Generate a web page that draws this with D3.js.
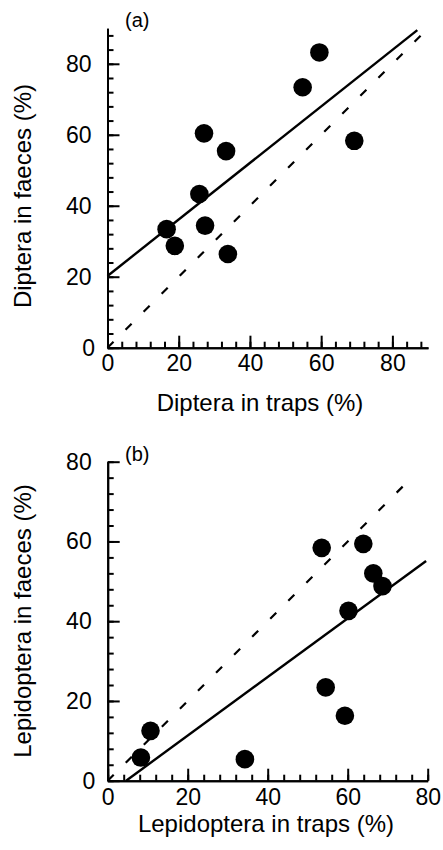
<!DOCTYPE html>
<html>
<head>
<meta charset="utf-8">
<script src="https://cdn.jsdelivr.net/npm/d3@7"></script>
<style>
  body { margin: 0; background: #fff; }
  svg text { font-family: "Liberation Sans", Arial, sans-serif; fill: #000; }
</style>
</head>
<body>
<div id="chart"></div>
<script>
// panel (a): Diptera
var dipTraps  = [59.5, 54.8, 27.1, 33.3, 69.3, 25.8, 16.6, 27.4, 18.9, 33.8];
var dipFaeces = [83.2, 73.4, 60.4, 55.4, 58.3, 43.3, 33.4, 34.4, 28.7, 26.4];
var dipFit    = [[0, 20.2], [87, 89.5]];
var dipEqual  = [[0, 0], [89, 89]];
var dipTicks  = [0, 20, 40, 60, 80];

// panel (b): Lepidoptera
var lepTraps  = [53.5, 63.9, 66.4, 68.7, 60.2, 54.5, 59.3, 10.7, 8.3, 34.3];
var lepFaeces = [58.4, 59.4, 52.0, 48.8, 42.6, 23.4, 16.3, 12.5, 5.8, 5.4];
var lepFit    = [[4.6, 0], [79.6, 55.1]];
var lepEqual  = [[0, 0], [75.5, 75.5]];
var lepTicks  = [0, 20, 40, 60, 80];

var svg = d3.select("#chart")
  .append("svg")
  .attr("width", 443)
  .attr("height", 850);

function drawPanel(opts) {
  var x = d3.scaleLinear().domain([0, opts.max]).range([opts.left, opts.right]);
  var y = d3.scaleLinear().domain([0, opts.max]).range([opts.bottom, opts.top]);
  var minor = d3.range(0, opts.max + 0.1, 4);

  var g = svg.append("g");

  // minor ticks (pointing inwards)
  g.append("g")
    .attr("transform", `translate(0, ${opts.bottom})`)
    .call(d3.axisBottom(x).tickValues(minor).tickSize(-6).tickSizeOuter(0).tickFormat(""));
  g.append("g")
    .attr("transform", `translate(${opts.left}, 0)`)
    .call(d3.axisLeft(y).tickValues(minor).tickSize(-6).tickSizeOuter(0).tickFormat(""));

  // major ticks with labels
  g.append("g")
    .attr("transform", `translate(0, ${opts.bottom})`)
    .call(d3.axisBottom(x).tickValues(opts.ticks).tickSize(-12).tickSizeOuter(0).tickPadding(opts.xPad));
  var yAxis = g.append("g")
    .attr("transform", `translate(${opts.left}, 0)`)
    .call(d3.axisLeft(y).tickValues(opts.ticks).tickSize(-12).tickSizeOuter(0).tickPadding(16));

  // the zero label sits a bit closer to the axis in the original
  yAxis.selectAll(".tick text").filter(d => d === 0).attr("x", -12.5);

  g.selectAll(".domain, .tick line")
    .attr("stroke", "#000")
    .attr("stroke-width", 2);
  g.selectAll(".tick text")
    .attr("font-size", 23)
    .style("font-family", '"Liberation Sans", Arial, sans-serif');

  var line = d3.line().x(d => x(d[0])).y(d => y(d[1]));

  // 1:1 line
  g.append("path")
    .datum(opts.equal)
    .attr("d", line)
    .attr("fill", "none")
    .attr("stroke", "#000")
    .attr("stroke-width", 2.2)
    .attr("stroke-dasharray", "8.5,17");

  // regression line
  g.append("path")
    .datum(opts.fit)
    .attr("d", line)
    .attr("fill", "none")
    .attr("stroke", "#000")
    .attr("stroke-width", 2.4);

  g.selectAll("circle")
    .data(opts.xs)
    .enter()
    .append("circle")
    .attr("cx", d => x(d))
    .attr("cy", (d, i) => y(opts.ys[i]))
    .attr("r", 9.3)
    .attr("fill", "#000");

  // panel label
  g.append("text")
    .attr("x", 125)
    .attr("y", opts.top - 1)
    .attr("font-size", 20)
    .text(opts.tag);

  // axis titles
  g.append("text")
    .attr("x", opts.xTitleX)
    .attr("y", opts.xTitleY)
    .attr("text-anchor", "middle")
    .attr("font-size", 24)
    .text(opts.xTitle);

  g.append("text")
    .attr("transform", `translate(31, ${opts.yTitleY}) rotate(-90)`)
    .attr("text-anchor", "middle")
    .attr("font-size", 24)
    .text(opts.yTitle);
}

drawPanel({
  xs: dipTraps, ys: dipFaeces, fit: dipFit, equal: dipEqual, ticks: dipTicks,
  max: 90, left: 107.5, right: 428, top: 28.3, bottom: 347.7, xPad: 7,
  tag: "(a)",
  xTitle: "Diptera in traps (%)", xTitleX: 260, xTitleY: 410.5,
  yTitle: "Diptera in faeces (%)", yTitleY: 196
});

drawPanel({
  xs: lepTraps, ys: lepFaeces, fit: lepFit, equal: lepEqual, ticks: lepTicks,
  max: 80, left: 107.7, right: 427.7, top: 461.7, bottom: 780.7, xPad: 8,
  tag: "(b)",
  xTitle: "Lepidoptera in traps (%)", xTitleX: 266, xTitleY: 832,
  yTitle: "Lepidoptera in faeces (%)", yTitleY: 621
});
</script>
</body>
</html>
